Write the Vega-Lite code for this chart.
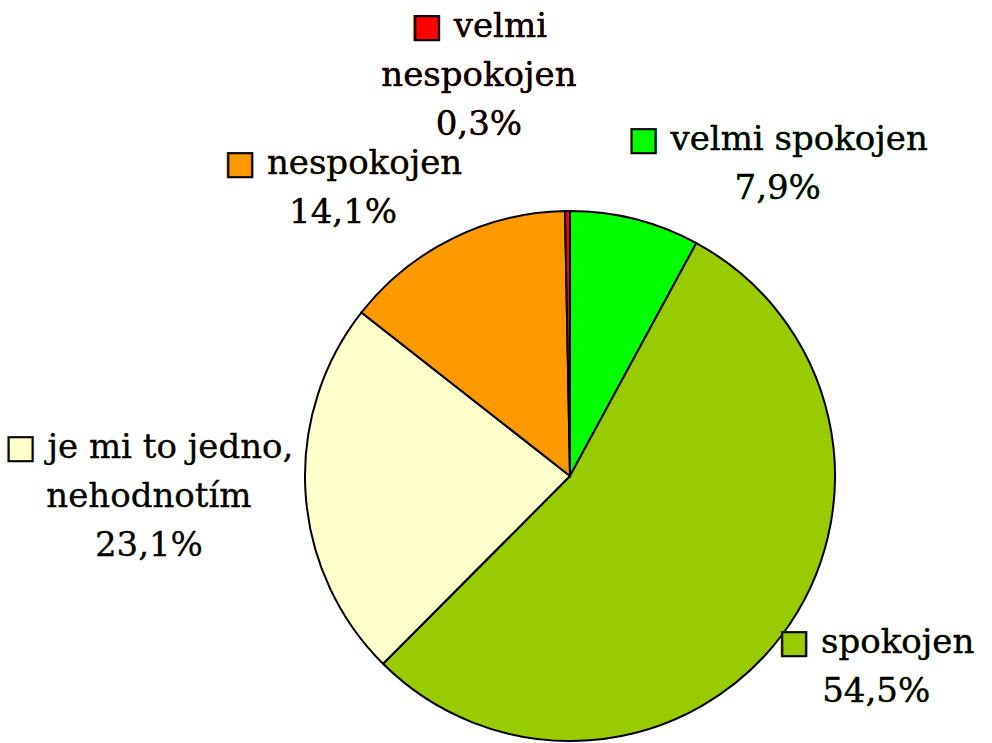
{
  "$schema": "https://vega.github.io/schema/vega-lite/v6.json",
  "width": 530,
  "height": 530,
  "autosize": {"type": "none"},
  "padding": {"left": 305, "top": 211, "right": 157, "bottom": 2},
  "background": "white",
  "config": {"view": {"stroke": null}},
  "data": {
    "values": [
      {"kategorie": "velmi spokojen", "podil": 7.9, "poradi": 1},
      {"kategorie": "spokojen", "podil": 54.5, "poradi": 2},
      {"kategorie": "je mi to jedno,\nnehodnotím", "podil": 23.1, "poradi": 3},
      {"kategorie": "nespokojen", "podil": 14.1, "poradi": 4},
      {"kategorie": "velmi\nnespokojen", "podil": 0.3, "poradi": 5}
    ]
  },
  "encoding": {
    "theta": {"field": "podil", "type": "quantitative", "stack": true},
    "order": {"field": "poradi", "type": "quantitative"},
    "color": {
      "field": "kategorie",
      "type": "nominal",
      "legend": null,
      "scale": {
        "domain": ["velmi spokojen", "spokojen", "je mi to jedno,\nnehodnotím", "nespokojen", "velmi\nnespokojen"],
        "range": ["#00FF00", "#99CC00", "#FFFFCC", "#FF9900", "#FF0000"]
      }
    }
  },
  "layer": [
    {
      "mark": {"type": "arc", "outerRadius": 265, "stroke": "black", "strokeWidth": 2}
    },
    {
      "mark": {
        "type": "text",
        "radius": {"expr": "datum.podil < 1 ? 327 : 272"},
        "font": "DejaVu Serif",
        "fontSize": 34,
        "lineHeight": 49,
        "lineBreak": "\n",
        "align": "center",
        "baseline": "middle",
        "text": {"expr": "'■ ' + datum.kategorie + '\\n' + replace(format(datum.podil, '.1f'), '.', ',') + '%'"},
        "dx": {"expr": "(sin(scale('theta', (datum.podil_start + datum.podil_end) / 2)) < 0 ? -1 : 1) * 8.8 * max(2 + length(split(datum.kategorie, '\\n')[0]), length(split(datum.kategorie, '\\n')[1] || ''), 5)"},
        "dy": {"expr": "-24.5 * (cos(scale('theta', (datum.podil_start + datum.podil_end) / 2)) * (1 + length(split(datum.kategorie, '\\n'))) + length(split(datum.kategorie, '\\n')))"}
      }
    },
    {
      "mark": {
        "type": "text",
        "radius": {"expr": "datum.podil < 1 ? 327 : 272"},
        "font": "DejaVu Serif",
        "fontSize": 34,
        "lineHeight": 49,
        "lineBreak": "\n",
        "align": "center",
        "baseline": "middle",
        "stroke": "black",
        "strokeWidth": 0.3,
        "text": {"expr": "'□ ' + datum.kategorie + '\\n' + replace(format(datum.podil, '.1f'), '.', ',') + '%'"},
        "dx": {"expr": "(sin(scale('theta', (datum.podil_start + datum.podil_end) / 2)) < 0 ? -1 : 1) * 8.8 * max(2 + length(split(datum.kategorie, '\\n')[0]), length(split(datum.kategorie, '\\n')[1] || ''), 5)"},
        "dy": {"expr": "-24.5 * (cos(scale('theta', (datum.podil_start + datum.podil_end) / 2)) * (1 + length(split(datum.kategorie, '\\n'))) + length(split(datum.kategorie, '\\n')))"}
      },
      "encoding": {"color": {"value": "black"}}
    }
  ]
}
